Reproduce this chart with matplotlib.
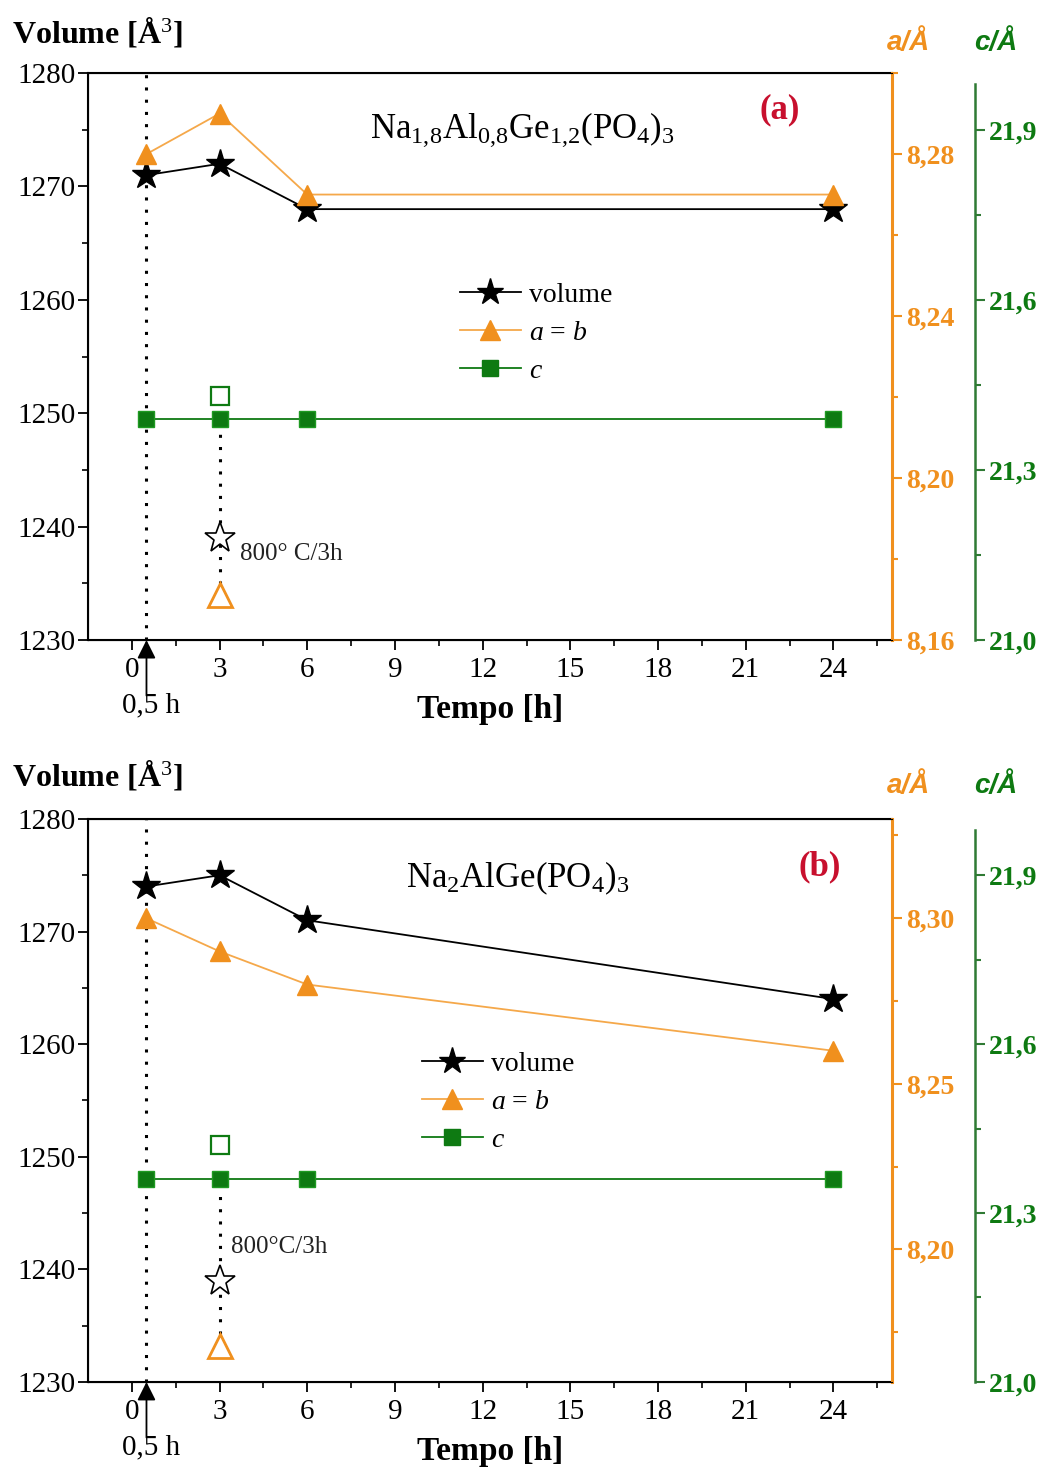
import matplotlib
matplotlib.use("Agg")
import matplotlib.pyplot as plt
from matplotlib.lines import Line2D

plt.rcParams['font.family'] = ['Liberation Serif', 'DejaVu Serif']
plt.rcParams['mathtext.fontset'] = 'custom'
plt.rcParams['mathtext.rm'] = 'Liberation Serif'
plt.rcParams['mathtext.it'] = 'Liberation Serif:italic'
plt.rcParams['mathtext.bf'] = 'Liberation Serif:bold'

# --------- data ---------
tempo = [0.5, 3, 6, 24]

vol_a = [1271, 1272, 1268, 1268]
ab_a = [8.280, 8.290, 8.270, 8.270]
c_a = [21.39, 21.39, 21.39, 21.39]
heat_a = {'vol': 1239, 'ab': 8.171, 'c': 21.43}

vol_b = [1274, 1275, 1271, 1264]
ab_b = [8.300, 8.290, 8.280, 8.260]
c_b = [21.36, 21.36, 21.36, 21.36]
heat_b = {'vol': 1239, 'ab': 8.171, 'c': 21.42}

heat_t = 3
xticks = [0, 3, 6, 9, 12, 15, 18, 21, 24]

ORANGE = '#f0901e'
ORANGE_L = '#f5a84a'
GREEN = '#0e7a12'
GREEN_AX = '#2f7a34'
RED = '#c8102e'

fig = plt.figure(figsize=(10.49, 14.70), dpi=100)


def panel(rect, vol, ab, c, heat, ab_lim, ab_ticks, formula, tag, heat_lbl, lbl_xy,
          leg_anchor, formula_xy, tag_xy, top_lbl_y):
    ax = fig.add_axes(rect)
    ax2 = ax.twinx()
    ax3 = ax.twinx()
    ax3.spines['right'].set_position(('axes', 1.103))
    for s in ['top', 'left', 'bottom', 'right']:
        ax3.spines[s].set_visible(False)
    ax3.spines['right'].set_visible(True)
    ax3.spines['right'].set_color(GREEN_AX)
    ax3.spines['right'].set_linewidth(1.8)
    ax3.spines['right'].set_bounds(21.0, 21.98)
    ax2.spines['right'].set_color(ORANGE)
    ax2.spines['right'].set_linewidth(2.2)
    for s in ['top', 'left', 'bottom']:
        ax.spines[s].set_linewidth(1.5)

    ax.set_xlim(-1.5, 26)
    ax.set_ylim(1230, 1280)
    ax2.set_ylim(*ab_lim)
    ax3.set_ylim(21.0, 22.0)

    ax.set_xticks(xticks)
    ax.set_xticks([x + 1.5 for x in xticks], minor=True)
    ax.set_yticks([1230, 1240, 1250, 1260, 1270, 1280])
    ax.set_yticks([1235, 1245, 1255, 1265, 1275], minor=True)
    ax.tick_params(axis='both', which='major', labelsize=21, length=7, width=1.3)
    ax.tick_params(axis='both', which='minor', length=4, width=1.2)
    ax.tick_params(axis='x', pad=5)
    ax.tick_params(axis='y', pad=2)

    ax2.set_yticks(ab_ticks[0])
    ax2.set_yticks(ab_ticks[1], minor=True)
    ax2.set_yticklabels([('%.2f' % v).replace('.', ',') for v in ab_ticks[0]])
    ax2.tick_params(axis='y', which='both', colors=ORANGE, labelsize=20, width=1.5)
    ax2.tick_params(axis='y', which='major', length=7)
    ax2.tick_params(axis='y', which='minor', length=4)
    for t in ax2.get_yticklabels():
        t.set_fontweight('bold')

    ax3.set_yticks([21.0, 21.3, 21.6, 21.9])
    ax3.set_yticks([21.15, 21.45, 21.75], minor=True)
    ax3.set_yticklabels(['21,0', '21,3', '21,6', '21,9'])
    ax3.tick_params(axis='y', which='both', colors=GREEN_AX, labelsize=20, width=1.5)
    ax3.tick_params(axis='y', which='major', length=7)
    ax3.tick_params(axis='y', which='minor', length=4)
    for t in ax3.get_yticklabels():
        t.set_fontweight('bold')
        t.set_color(GREEN)

    # dotted markers of the 0,5 h start and of the heated sample
    ax.axvline(tempo[0], color='black', ls=(0, (1, 3)), lw=2.2, zorder=1)
    ymin = (heat['ab'] - ab_lim[0]) / (ab_lim[1] - ab_lim[0]) + 0.02
    ymax = (c[1] - 21.0) / (22.0 - 21.0)
    ax.axvline(heat_t, ymin=ymin, ymax=ymax, color='black', ls=(0, (1, 3)), lw=2.2, zorder=1)

    ax3.plot(tempo, c, '-s', color=GREEN, mfc=GREEN, mec='#1f9a22', ms=12, lw=1.3)
    ax2.plot(tempo, ab, '-^', color=ORANGE_L, mfc=ORANGE, mec=ORANGE, ms=15, lw=1.3)
    ax.plot(tempo, vol, '-*', color='black', ms=21, lw=1.3)

    ax3.plot([heat_t], [heat['c']], 's', mfc='white', mec=GREEN, mew=1.6, ms=13)
    ax2.plot([heat_t], [heat['ab']], '^', mfc='white', mec=ORANGE, mew=2, ms=17)
    ax.plot([heat_t], [heat['vol']], '*', mfc='white', mec='black', mew=1.2, ms=23)
    ax.text(lbl_xy[0], lbl_xy[1], heat_lbl, fontsize=18, ha='left', va='center',
            color='#222222')

    # arrow for the 0,5 h point
    ax.annotate('', xy=(tempo[0], 1230), xytext=(0, -40), textcoords='offset points',
                arrowprops=dict(arrowstyle='-|>', color='black', lw=1.3,
                                mutation_scale=28, shrinkA=0, shrinkB=0),
                annotation_clip=False)
    ax.annotate('0,5 h', xy=(tempo[0], 1230), xytext=(3, -47), textcoords='offset points',
                ha='center', va='center', fontsize=21, annotation_clip=False)

    ax.set_xlabel('Tempo [h]', fontsize=24, fontweight='bold', labelpad=8)

    ax.text(formula_xy[0], formula_xy[1], formula, fontsize=25, ha='center', va='center',
            transform=ax.transAxes)
    ax.text(tag_xy[0], tag_xy[1], tag, fontsize=25, fontweight='bold', color=RED,
            ha='center', va='center', transform=ax.transAxes)

    handles = [
        Line2D([], [], color='black', marker='*', ms=20, lw=1.3),
        Line2D([], [], color=ORANGE_L, marker='^', mfc=ORANGE, mec=ORANGE, ms=15, lw=1.3),
        Line2D([], [], color=GREEN, marker='s', mfc=GREEN, ms=12, lw=1.3),
    ]
    ax.legend(handles, ['volume', r'$a$ = $b$', r'$c$'], loc='upper left',
              bbox_to_anchor=leg_anchor, frameon=False, fontsize=20,
              handlelength=2.2, handletextpad=0.3, labelspacing=0.45, borderpad=0)

    fig.text(0.011, top_lbl_y + 0.007, 'Volume [Å$^3$]', fontsize=23, fontweight='bold',
             ha='left', va='center')
    fig.text(0.866, top_lbl_y, 'a/Å', fontsize=20, fontweight='bold',
             color=ORANGE, ha='center', va='center', family='Liberation Sans',
             style='italic')
    fig.text(0.949, top_lbl_y, 'c/Å', fontsize=20, fontweight='bold',
             color=GREEN, ha='center', va='center', family='Liberation Sans',
             style='italic')
    return ax


panel([0.0839, 0.5646, 0.7664, 0.3857], vol_a, ab_a, c_a, heat_a,
      (8.16, 8.30), ([8.16, 8.20, 8.24, 8.28], [8.18, 8.22, 8.26, 8.30]),
      r'$\mathrm{Na_{1{,}8}Al_{0{,}8}Ge_{1{,}2}(PO_4)_3}$', '(a)',
      '800° C/3h', (3.7, 1237.6), (0.445, 0.655), (0.54, 0.90), (0.86, 0.935), 0.971)

panel([0.0839, 0.0599, 0.7664, 0.3830], vol_b, ab_b, c_b, heat_b,
      (8.16, 8.33), ([8.20, 8.25, 8.30], [8.175, 8.225, 8.275, 8.325]),
      r'$\mathrm{Na_2AlGe(PO_4)_3}$', '(b)',
      '800°C/3h', (3.4, 1242.0), (0.398, 0.612), (0.535, 0.895), (0.91, 0.915), 0.4655)

plt.savefig('out.png', dpi=100)
